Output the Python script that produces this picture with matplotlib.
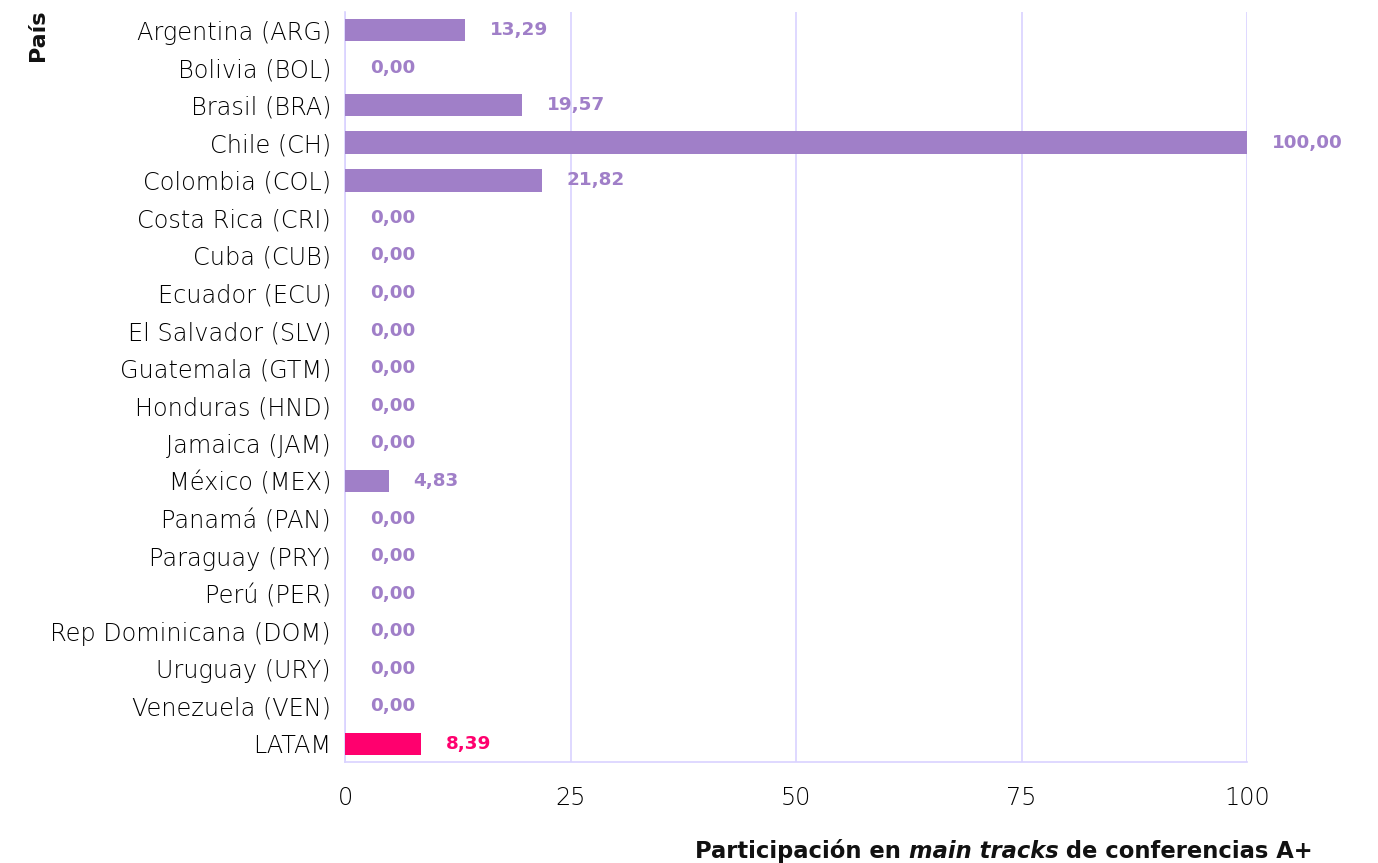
import matplotlib
matplotlib.use("Agg")
import matplotlib.pyplot as plt
from matplotlib.transforms import offset_copy

countries = ["Argentina (ARG)", "Bolivia (BOL)", "Brasil (BRA)", "Chile (CH)", "Colombia (COL)",
             "Costa Rica (CRI)", "Cuba (CUB)", "Ecuador (ECU)", "El Salvador (SLV)", "Guatemala (GTM)",
             "Honduras (HND)", "Jamaica (JAM)", "México (MEX)", "Panamá (PAN)", "Paraguay (PRY)",
             "Perú (PER)", "Rep Dominicana (DOM)", "Uruguay (URY)", "Venezuela (VEN)", "LATAM"]
values = [13.29, 0.00, 19.57, 100.00, 21.82, 0.00, 0.00, 0.00, 0.00, 0.00,
          0.00, 0.00, 4.83, 0.00, 0.00, 0.00, 0.00, 0.00, 0.00, 8.39]
xticks = [0, 25, 50, 75, 100]

PURPLE = "#a07fc8"
PINK = "#ff006e"
GRID = "#d9d2ff"

plt.rcParams['font.family'] = ['DejaVu Sans']

fig = plt.figure(figsize=(13.78, 8.63), dpi=100)
ax = fig.add_axes([345/1378, 1-762/863, (1247-345)/1378, (762-12)/863])

colors = [PINK if c == "LATAM" else PURPLE for c in countries]
ypos = list(range(len(countries)))
ax.barh(ypos, values, height=0.6, color=colors, zorder=3)
ax.set_ylim(len(countries) - 0.52, -0.48)
ax.set_xlim(0, 100)
ax.set_yticks(ypos)
ax.set_yticklabels(countries, fontsize=17.3, color="#000000", fontweight='light')
ax.set_xticks(xticks)
ax.set_xticklabels([str(t) for t in xticks], fontsize=17.3, color="#000000", fontweight='light')
ax.tick_params(axis='both', length=0)
ax.tick_params(axis='x', pad=17)
ax.tick_params(axis='y', pad=10)
ax.grid(axis='x', color=GRID, linewidth=1.2, zorder=0)
for s in ["top", "right"]:
    ax.spines[s].set_visible(False)
for s in ["left", "bottom"]:
    ax.spines[s].set_color(GRID)
    ax.spines[s].set_linewidth(1.2)

for y, v, c in zip(ypos, values, colors):
    tr = offset_copy(ax.transData, fig=fig, x=25, y=0, units='dots')
    ax.text(v, y, f"{v:.2f}".replace(".", ","), transform=tr, color=c,
            fontsize=13.2, fontweight='bold', va='center', ha='left')

fig.text(38/1378, 1-35/863, "País", rotation=90, fontsize=16, fontweight='bold',
         ha='center', va='center', color="#111111")

# x label with italic part, assembled right-to-left
fig.canvas.draw()
r = fig.canvas.get_renderer()
parts = [("Participación en ", 'normal'), ("main tracks", 'italic'), (" de conferencias A+", 'normal')]
xr = 1313
yb = 863 - 851
for txt, style in reversed(parts):
    t = fig.text(xr / 1378, yb / 863, txt, fontsize=16.3, fontweight='bold', style=style,
                 ha='right', va='center', color="#111111")
    bb = t.get_window_extent(renderer=r)
    xr -= bb.width

fig.savefig("out.png", dpi=100)
